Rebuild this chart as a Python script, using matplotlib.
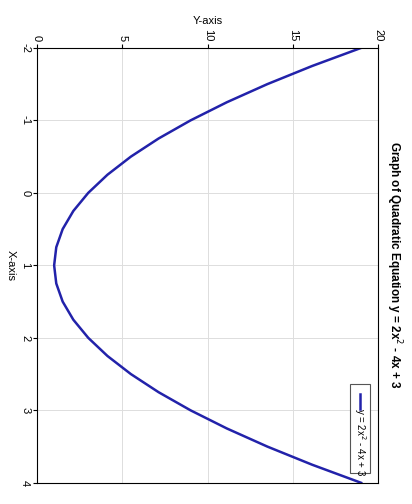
import matplotlib
matplotlib.use("Agg")
import matplotlib.pyplot as plt
from matplotlib.patches import Rectangle
from matplotlib.lines import Line2D

# values (x, y)
xs = [-2, -1.75, -1.5, -1.25, -1, -0.75, -0.5, -0.25, 0, 0.25, 0.5, 0.75, 1,
      1.25, 1.5, 1.75, 2, 2.25, 2.5, 2.75, 3, 3.25, 3.5, 3.75, 4]
ys = [19, 16.125, 13.5, 11.125, 9, 7.125, 5.5, 4.125, 3, 2.125, 1.5, 1.125, 1,
      1.125, 1.5, 2.125, 3, 4.125, 5.5, 7.125, 9, 11.125, 13.5, 16.125, 19]
x_ticks = [-2, -1, 0, 1, 2, 3, 4]
y_ticks = [0, 5, 10, 15, 20]
title = "Graph of Quadratic Equation y = 2x$^2$ - 4x + 3"
legend_label = "y = 2x$^2$ - 4x + 3"

plt.rcParams['font.family'] = ['Liberation Sans', 'DejaVu Sans']
fig = plt.figure(figsize=(4.12, 5.04), dpi=100)
ax = fig.add_axes([0.09, 0.042, 0.828, 0.863])

# the whole chart is turned a quarter turn clockwise
ax.plot(ys, xs, color='#2222aa', linewidth=1.8)
ax.set_xlim(0, 20)
ax.set_ylim(4, -2)
ax.set_xticks(y_ticks)
ax.set_yticks(x_ticks)
ax.xaxis.tick_top()
ax.xaxis.set_label_position('top')
ax.set_xticklabels([str(v) for v in y_ticks], rotation=-90, fontsize=8)
ax.set_yticklabels([str(v) for v in x_ticks], rotation=-90, fontsize=8, va='center')
ax.tick_params(length=3, pad=2)
ax.grid(True, color='#dddddd', linewidth=0.7)
ax.set_axisbelow(True)
for s in ax.spines.values():
    s.set_linewidth(0.8)

ax.set_xlabel("Y-axis", fontsize=8, labelpad=3)
ax.set_ylabel("X-axis", fontsize=8, rotation=-90, labelpad=10)
fig.text(0.955, 0.475, title, rotation=-90, ha='center', va='center',
         fontsize=8.5, fontweight='bold')

# legend drawn by hand so it can be rotated too
ax.add_patch(Rectangle((0.917, 0.022), 0.058, 0.205, transform=ax.transAxes,
                       facecolor='white', edgecolor='#555555', linewidth=0.8, zorder=5))
ax.add_line(Line2D([0.946, 0.946], [0.205, 0.17], transform=ax.transAxes,
                   color='#2222aa', linewidth=1.8, zorder=6))
ax.text(0.946, 0.095, legend_label, transform=ax.transAxes, rotation=-90,
        ha='center', va='center', fontsize=7, zorder=6)

fig.savefig("out.png", dpi=100)
